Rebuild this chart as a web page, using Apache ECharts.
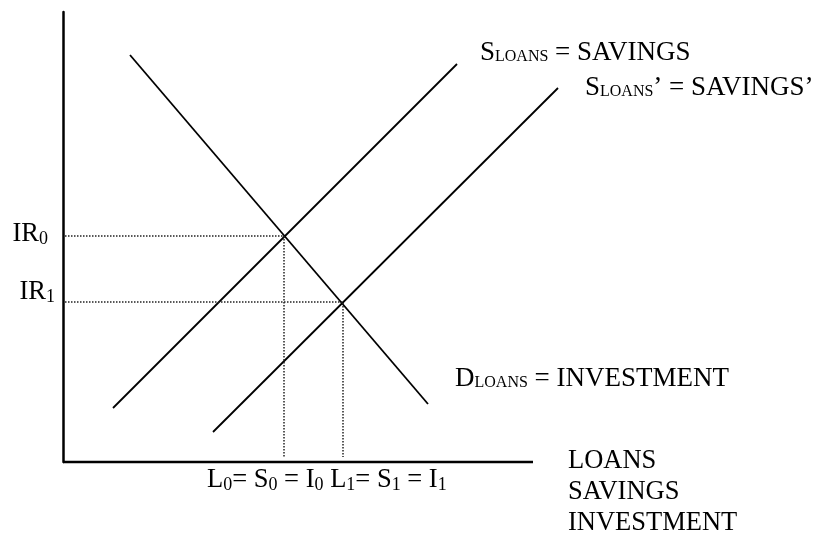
<!DOCTYPE html>
<html>
<head>
<meta charset="utf-8">
<title>Loanable funds market</title>
<script src="https://cdn.jsdelivr.net/npm/echarts@6/dist/echarts.min.js"></script>
<style>
  html, body { margin: 0; padding: 0; background: #fff; }
  #chart { width: 820px; height: 534px; }
</style>
</head>
<body>
<div id="chart"></div>
<script>
// loans on x, interest rate on y (arbitrary units)
const demand = [[6.7, 40.7], [36.5, 5.8]];
const supply = [[5.0, 5.4], [39.4, 39.8]];
const supplyNew = [[15.0, 3.0], [49.5, 37.4]];

// equilibrium points: before and after the supply shift
const rates = [22.6, 16.0];   // IR0, IR1
const loans = [22.1, 28.0];   // L0, L1
const rateSubs = ['0', '1'];

// drawn length of the horizontal axis (the shifted supply runs past it)
const xAxisEnd = 47;

const FONT = '"Liberation Serif", "Times New Roman", serif';

// main text, letter subscript, digit subscript
const rich = {
  m: { fontFamily: FONT, fontSize: 26.5, lineHeight: 30, color: '#000' },
  s: { fontFamily: FONT, fontSize: 15.5, color: '#000', padding: [8, 0, 0, 0] },
  d: { fontFamily: FONT, fontSize: 18, color: '#000', padding: [10, 0, 0, 0] }
};
const curveRich = {
  m: { fontFamily: FONT, fontSize: 27, lineHeight: 30, color: '#000' },
  s: { fontFamily: FONT, fontSize: 16, color: '#000', padding: [8, 0, 0, 0] }
};

function curve(name, data, text, offset) {
  return {
    name: name,
    type: 'line',
    data: data,
    symbol: 'none',
    clip: false,
    silent: true,
    lineStyle: { color: '#000', width: 1.8 },
    endLabel: {
      show: true,
      distance: 0,
      offset: offset,
      formatter: () => text,
      rich: curveRich
    }
  };
}

// dotted drop lines from each equilibrium to the axes
const dropLines = rates.map((r, i) => ({
  type: 'line',
  data: [[0.2, r], [loans[i], r], [loans[i], 0.5]],
  symbol: 'none',
  silent: true,
  lineStyle: { color: '#222', width: 1.5, type: [1.5, 1.5] }
}));

const chart = echarts.init(document.getElementById('chart'), null, { renderer: 'canvas' });

chart.setOption({
  backgroundColor: '#fff',
  animation: false,
  grid: { left: 63, top: 12, width: 500, height: 450 },
  xAxis: {
    type: 'value',
    min: 0,
    max: 50,
    axisLine: { show: false },
    axisTick: { show: false },
    axisLabel: { show: false },
    splitLine: { show: false }
  },
  yAxis: {
    type: 'value',
    min: 0,
    max: 45,
    axisLine: { show: true, lineStyle: { color: '#000', width: 2.5 } },
    axisTick: { show: false },
    splitLine: { show: false },
    axisLabel: {
      show: true,
      customValues: rates,
      margin: 8,
      formatter: v => v === rates[0]
        ? '{a0|IR}{b0|' + rateSubs[0] + '}'
        : '{a1|IR}{b1|' + rateSubs[1] + '}',
      rich: {
        a0: { fontFamily: FONT, fontSize: 26.5, lineHeight: 30, color: '#000', padding: [0, 0, 4, 0] },
        b0: { fontFamily: FONT, fontSize: 18, color: '#000', padding: [6, 7, 0, 0] },
        a1: { fontFamily: FONT, fontSize: 26.5, lineHeight: 30, color: '#000', padding: [0, 0, 19, 0] },
        b1: { fontFamily: FONT, fontSize: 18, color: '#000', padding: [0, 0, 9, 0] }
      }
    }
  },
  series: [
    {
      name: 'xAxisLine',
      type: 'line',
      data: [[0, 0], [xAxisEnd, 0]],
      symbol: 'none',
      clip: false,
      silent: true,
      lineStyle: { color: '#000', width: 2.5 }
    },
    curve('demand', demand, '{m|D}{s|LOANS}{m| = INVESTMENT}', [27, -25]),
    curve('supply', supply, '{m|S}{s|LOANS}{m| = SAVINGS}', [23, -11]),
    curve('supplyNew', supplyNew, '{m|S}{s|LOANS}{m|\u2019 = SAVINGS\u2019}', [27, 0])
  ].concat(dropLines),
  graphic: [
    {
      type: 'text',
      x: 207,
      y: 480,
      style: {
        text: '{m|L}{d|0}{m|= S}{d|0}{m| = I}{d|0}{m| L}{d|1}{m|= S}{d|1}{m| = I}{d|1}',
        rich: rich,
        align: 'left',
        verticalAlign: 'middle'
      }
    },
    {
      type: 'text',
      x: 568,
      y: 446,
      style: {
        text: 'LOANS\nSAVINGS\nINVESTMENT',
        fontFamily: FONT,
        fontSize: 26.5,
        lineHeight: 31,
        fill: '#000',
        align: 'left',
        verticalAlign: 'top'
      }
    }
  ]
});
</script>
</body>
</html>
